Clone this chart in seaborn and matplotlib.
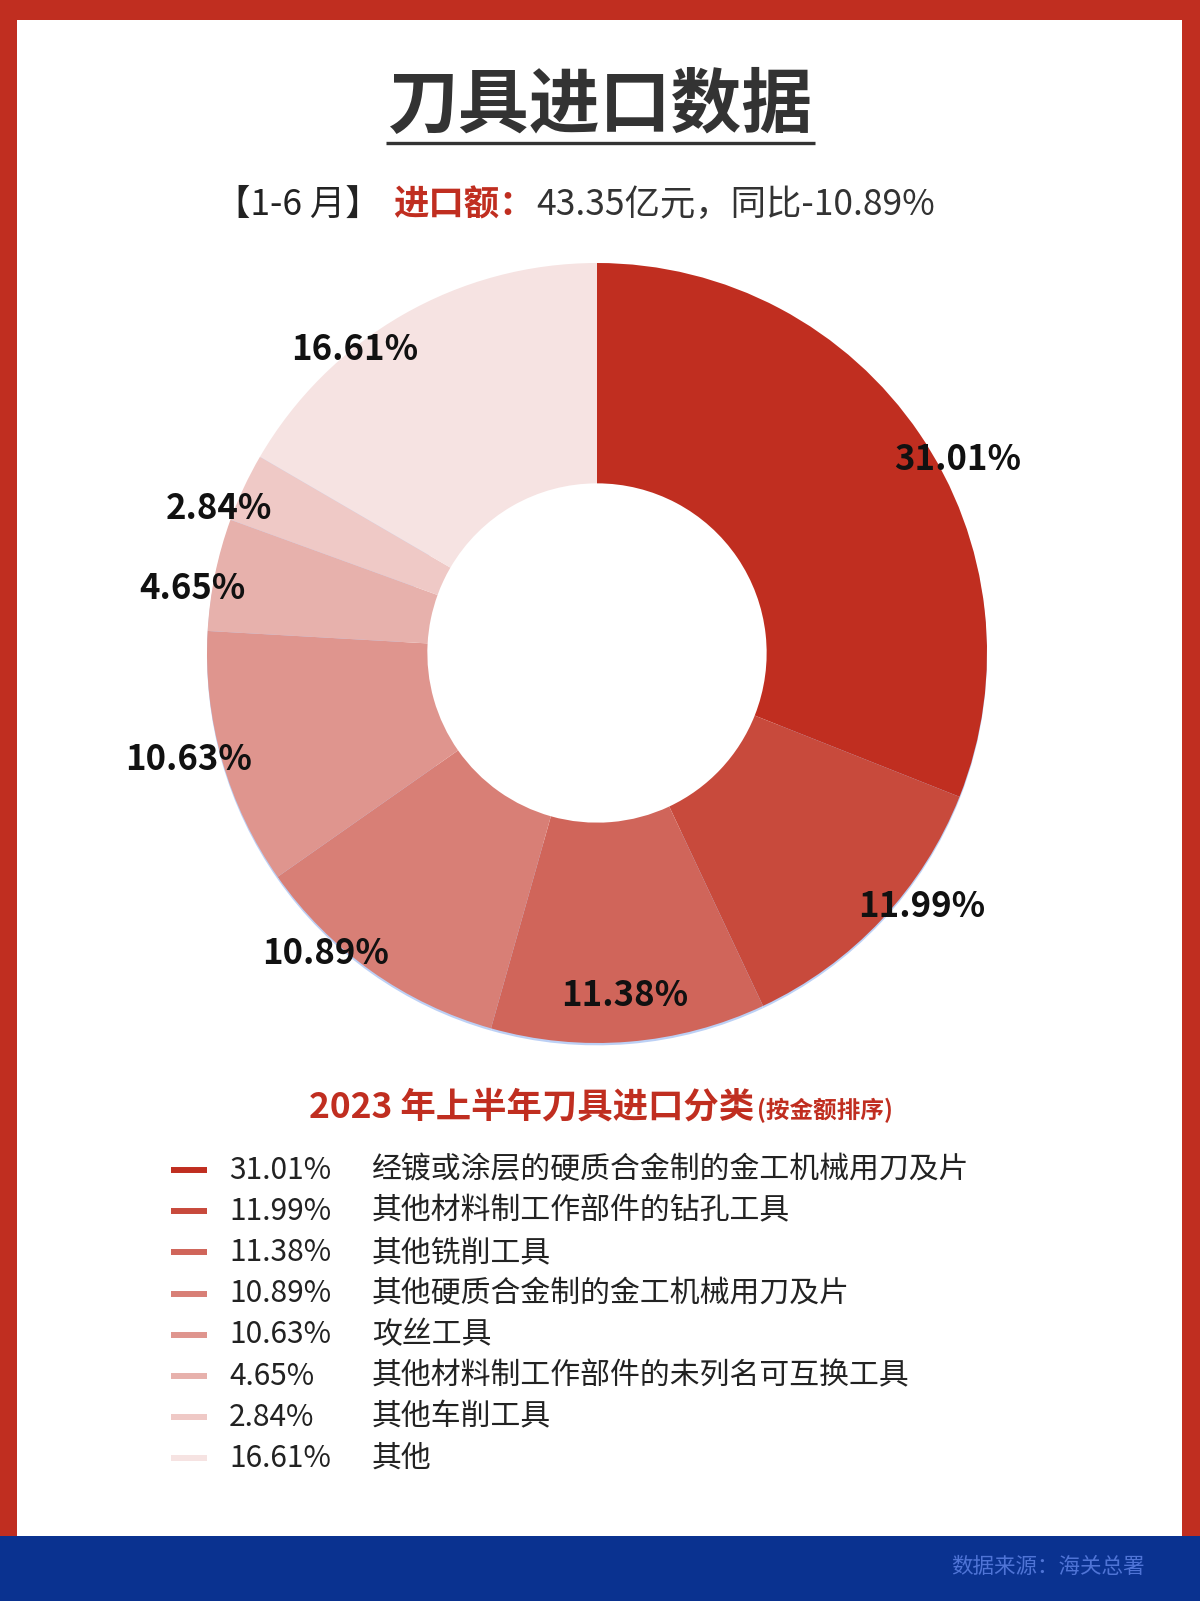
import numpy as np
import matplotlib
matplotlib.use("Agg")
import matplotlib.pyplot as plt
import matplotlib.patches as mpatches
import seaborn as sns

# ---------------- data ----------------
shares = [31.01, 11.99, 11.38, 10.89, 10.63, 4.65, 2.84, 16.61]
share_labels = ["31.01%", "11.99%", "11.38%", "10.89%", "10.63%", "4.65%", "2.84%", "16.61%"]
categories = [
    "经镀或涂层的硬质合金制的金工机械用刀及片",
    "其他材料制工作部件的钻孔工具",
    "其他铣削工具",
    "其他硬质合金制的金工机械用刀及片",
    "攻丝工具",
    "其他材料制工作部件的未列名可互换工具",
    "其他车削工具",
    "其他",
]
colors = ["#c02e20", "#c84a3c", "#d0655a", "#d87f76", "#df958e", "#e7b1ac", "#efc9c6", "#f6e3e2"]

title = "刀具进口数据"
sub_period = "【1-6 月】"
sub_key = "进口额："
sub_value = "43.35亿元，同比-10.89%"
legend_title = "2023 年上半年刀具进口分类"
legend_note = "(按金额排序)"
source = "数据来源：海关总署"

# ---------------- style ----------------
sns.set_theme(style="white")
plt.rcParams["font.family"] = ["Noto Sans CJK SC", "DejaVu Sans"]

W, H = 1200, 1601
fig = plt.figure(figsize=(W / 100, H / 100), dpi=100)
fig.patch.set_facecolor("#c02e20")

def fx(x): return x / W
def fy(y): return 1 - y / H

# overlay axes in pixel coordinates for background + texts
tx = fig.add_axes([0, 0, 1, 1], zorder=1)
tx.set_xlim(0, W)
tx.set_ylim(H, 0)
tx.axis("off")
tx.add_patch(mpatches.Rectangle((17, 20), 1182 - 17, 1536 - 20, facecolor="white", edgecolor="none", zorder=0))
tx.add_patch(mpatches.Rectangle((0, 1536), W, H - 1536, facecolor="#0a3290", edgecolor="none", zorder=0))

# title
tx.text(600, 106, title, ha="center", va="center", fontsize=51, fontweight="black", color="#333333")
tx.plot([386, 815], [143, 143], color="#333333", lw=2.4, solid_capstyle="butt")

# subtitle made of three runs
fig.canvas.draw()
renderer = fig.canvas.get_renderer()
runs = [(sub_period, "normal", "#222222"), (sub_key, "bold", "#c02e20"), (sub_value, "normal", "#333333")]
gaps = [12, 2, 0]
arts = []
for s, w, c in runs:
    arts.append(tx.text(0, 205, s, ha="left", va="center", fontsize=25.5, fontweight=w, color=c))
widths = [a.get_window_extent(renderer=renderer).width for a in arts]
total = sum(widths) + sum(gaps)
x = 575 - total / 2
for a, wdt, g in zip(arts, widths, gaps):
    a.set_x(x)
    x += wdt + g

# ---------------- donut ----------------
cx, cy, R = 597, 653, 390
ax = fig.add_axes([fx(cx - R), fy(cy + R), 2 * R / W, 2 * R / H], zorder=2)

# faint blue rim under the outer edge
ax.pie(shares, radius=1.0, startangle=90, counterclock=False, colors=["#bcd0f5"] * len(shares),
       wedgeprops=dict(width=0.5, linewidth=0), center=(0, -0.006), frame=True)
wedges, _ = ax.pie(shares, radius=1.0, startangle=90, counterclock=False, colors=colors,
                   wedgeprops=dict(width=0.565, linewidth=0), frame=True)
ax.set_xlim(-1, 1)
ax.set_ylim(-1, 1)
ax.set_aspect("equal")
ax.axis("off")

for wdg, lab in zip(wedges, share_labels):
    mid = np.deg2rad((wdg.theta1 + wdg.theta2) / 2)
    dx, dy = np.cos(mid), np.sin(mid)
    if dx > 0.3:
        ha, r = "left", 0.92
    elif dx < -0.3:
        ha, r = "right", 0.92
    else:
        ha, r = "center", 0.86
    ax.text(r * dx, r * dy - 0.02, lab, ha=ha, va="center", fontsize=25, fontweight="bold", color="#111111")

# ---------------- legend ----------------
lt = tx.text(0, 1107, legend_title, ha="left", va="center", fontsize=25.5, fontweight="bold", color="#c02e20")
ln = tx.text(0, 1110, legend_note, ha="left", va="center", fontsize=17, fontweight="bold", color="#c02e20")
w1 = lt.get_window_extent(renderer=renderer).width
w2 = ln.get_window_extent(renderer=renderer).width
x0 = 601 - (w1 + w2 + 3) / 2
lt.set_x(x0)
ln.set_x(x0 + w1 + 3)

row_y0, row_step = 1170, 41.2
for i, (lab, cat, col) in enumerate(zip(share_labels, categories, colors)):
    y = row_y0 + i * row_step
    tx.plot([171, 207], [y, y], color=col, lw=4.3, solid_capstyle="butt")
    tx.text(229, y, lab, ha="left", va="center", fontsize=21.5, color="#222222")
    tx.text(372, y, cat, ha="left", va="center", fontsize=21.5, color="#222222")

# footer source
tx.text(1145, 1567, source, ha="right", va="center", fontsize=15.5, color="#4f74d6")

fig.savefig("out.png", dpi=100, facecolor=fig.get_facecolor())
